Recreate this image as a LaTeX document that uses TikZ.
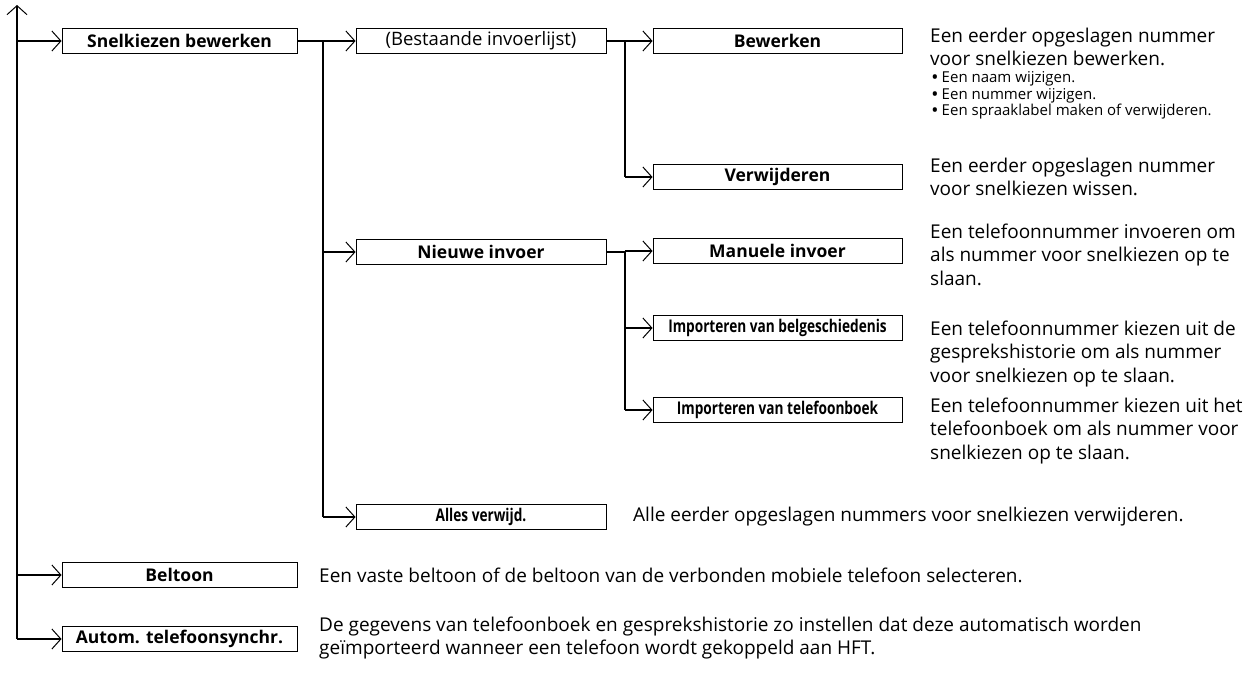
\documentclass[tikz,border=0pt]{standalone}
\usepackage{fontspec}
\setmainfont{Open Sans}
\newfontfamily\narrowfont{Open Sans}[FakeStretch=0.78]
\usetikzlibrary{arrows.meta,positioning}

\newcommand{\bul}{{\bfseries\textbullet}\ }

\begin{document}
\begin{tikzpicture}[
    x=1pt, y=-1pt,
    >={Straight Barb[length=9pt,width=20pt,line width=1pt]},
    menu/.style={
        rectangle, draw, line width=0.9pt, minimum height=25pt,
        inner sep=0pt, font=\fontsize{17.5}{20}\selectfont\bfseries,
        text centered
    },
    lvlone/.style={menu, minimum width=235pt},
    lvltwo/.style={menu, minimum width=250pt},
    lvlthree/.style={menu, minimum width=249pt},
    narrow/.style={font=\fontsize{17.5}{20}\selectfont\narrowfont\bfseries},
    bus/.style={line width=1.5pt},
    edge/.style={->, line width=1.5pt},
    desc/.style={anchor=north west, inner sep=0pt, align=left,
        font=\fontsize{19}{23.5}\selectfont},
    sdesc/.style={anchor=west, inner sep=0pt, font=\fontsize{19}{23.5}\selectfont},
    bullets/.style={anchor=north west, inner sep=0pt, align=left,
        font=\fontsize{15}{16.8}\selectfont},
]
\useasboundingbox (0,0) rectangle (1251,673);

% Menu level 1
\node[lvlone] (snel) at (179.5,41) {Snelkiezen bewerken};
\node[lvlone] (bel) at (179.5,575) {Beltoon};
\node[lvlone] (autom) at (179.5,639) {Autom. telefoonsynchr.};

% Menu level 2
\node[lvltwo, font=\fontsize{18.5}{20}\selectfont] (best) at (481,41) {(Bestaande invoerlijst)};
\node[lvltwo] (nieuw) at (481,252) {Nieuwe invoer};
\node[lvltwo, narrow] (alles) at (481,517) {Alles verwijd.};

% Menu level 3
\node[lvlthree] (bew) at (777.5,41) {Bewerken};
\node[lvlthree] (verw) at (777.5,177) {Verwijderen};
\node[lvlthree] (man) at (777.5,251) {Manuele invoer};
\node[lvlthree, narrow] (belg) at (777.5,328) {Importeren van belgeschiedenis};
\node[lvlthree, narrow] (tel) at (777.5,410) {Importeren van telefoonboek};

% Bus lines
\coordinate (root) at (17,5);
\coordinate (busa) at (323,41);
\coordinate (busb) at (625,41);
\coordinate (busc) at (625,252);

\draw[edge] (root |- autom) -- (root);
\foreach \n in {snel,bel,autom}
    \draw[edge] (root |- \n) -- (\n);

\draw[bus] (snel) -- (busa) -- (busa |- alles);
\foreach \n in {best,nieuw,alles}
    \draw[edge] (busa |- \n) -- (\n);

\draw[bus] (best) -- (busb) -- (busb |- verw);
\foreach \n in {bew,verw}
    \draw[edge] (busb |- \n) -- (\n);

\draw[bus] (nieuw) -- (busc) -- (busc |- tel);
\foreach \n in {man,belg,tel}
    \draw[edge] (busc |- \n) -- (\n);

% Descriptions
\node[desc] (dbew) at (930,27.7) {Een eerder opgeslagen nummer\\voor snelkiezen bewerken.};
\node[bullets] (lbew) at (932,71) {\bul Een naam wijzigen.\\\bul Een nummer wijzigen.\\\bul Een spraaklabel maken of verwijderen.};
\node[desc] (dverw) at (930,157.7) {Een eerder opgeslagen nummer\\voor snelkiezen wissen.};
\node[desc] (dman) at (930,223.7) {Een telefoonnummer invoeren om\\als nummer voor snelkiezen op te\\slaan.};
\node[desc] (dbelg) at (930,320.7) {Een telefoonnummer kiezen uit de\\gesprekshistorie om als nummer\\voor snelkiezen op te slaan.};
\node[desc] (dtel) at (930,397.7) {Een telefoonnummer kiezen uit het\\telefoonboek om als nummer voor\\snelkiezen op te slaan.};
\node[sdesc] (dalles) at (633,517) {Alle eerder opgeslagen nummers voor snelkiezen verwijderen.};
\node[sdesc] (dbel) at (319,575) {Een vaste beltoon of de beltoon van de verbonden mobiele telefoon selecteren.};
\node[desc] (dautom) at (319,616.7) {De gegevens van telefoonboek en gesprekshistorie zo instellen dat deze automatisch worden\\geïmporteerd wanneer een telefoon wordt gekoppeld aan HFT.};

\end{tikzpicture}
\end{document}
